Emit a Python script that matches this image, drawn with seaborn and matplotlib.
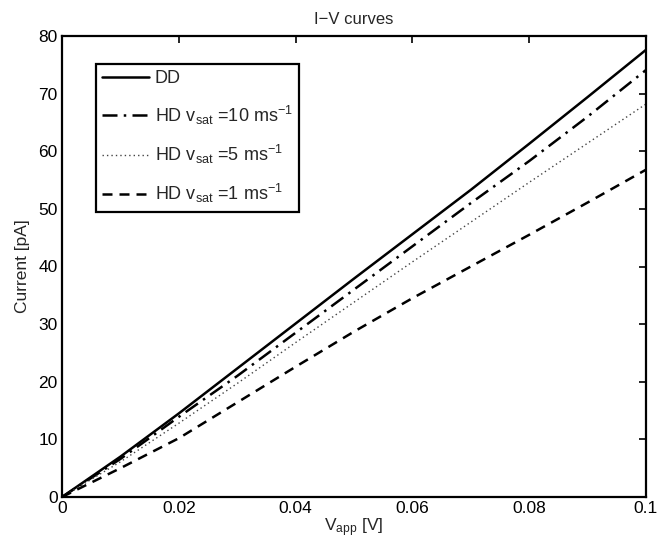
import matplotlib
matplotlib.use("Agg")
import matplotlib.pyplot as plt
import seaborn as sns
import numpy as np
import pandas as pd

v_app = [0, 0.01, 0.02, 0.03, 0.04, 0.05, 0.06, 0.07, 0.08, 0.09, 0.1]
dd = [0, 7.0, 14.5, 22.3, 30.1, 37.9, 45.6, 53.3, 61.3, 69.4, 77.6]
hd10 = [0, 6.6, 13.9, 21.0, 28.5, 36.0, 43.5, 51.0, 58.3, 66.0, 74.1]
hd5 = [0, 6.1, 12.8, 19.7, 26.8, 33.8, 40.8, 47.7, 54.6, 61.4, 68.2]
hd1 = [0, 5.0, 10.2, 16.4, 22.6, 28.7, 34.5, 40.0, 45.5, 51.1, 56.8]

labels = ["DD",
          r"HD v$_{sat}$ =10 ms$^{-1}$",
          r"HD v$_{sat}$ =5 ms$^{-1}$",
          r"HD v$_{sat}$ =1 ms$^{-1}$"]
xticks = [0, 0.02, 0.04, 0.06, 0.08, 0.1]
xticklabels = ["0", "0.02", "0.04", "0.06", "0.08", "0.1"]
yticks = [0, 10, 20, 30, 40, 50, 60, 70, 80]

sns.set_style("white")
plt.rcParams["font.family"] = ["Liberation Sans", "DejaVu Sans"]
plt.rcParams["mathtext.default"] = "regular"
plt.rcParams["font.size"] = 12.5

fig = plt.figure(figsize=(6.59, 5.48), dpi=100)
ax = fig.add_axes([62/659, 1-497/548, (646-62)/659, (497-36)/548])

series = [dd, hd10, hd5, hd1]
styles = [dict(linestyle="-", linewidth=1.8, color="black"),
          dict(linestyle=(0, (6, 2.5, 1, 2.5)), linewidth=1.8, color="black"),
          dict(linestyle=(0, (1, 2.2)), linewidth=1.0, color="#444444"),
          dict(linestyle=(0, (4, 2.8)), linewidth=1.8, color="black")]
for ys, lab, st in zip(series, labels, styles):
    df = pd.DataFrame({"V": v_app, "I": ys})
    sns.lineplot(data=df, x="V", y="I", ax=ax, label=lab, **st)

ax.set_xlim(0, 0.1)
ax.set_ylim(0, 80)
ax.set_xticks(xticks)
ax.set_xticklabels(xticklabels)
ax.set_yticks(yticks)
ax.tick_params(direction="in", length=5, width=1.2, top=True, right=True,
               labelsize=12.5, pad=3, colors="black")
for s in ax.spines.values():
    s.set_visible(True)
    s.set_linewidth(1.6)
    s.set_color("black")

ax.set_xlabel(r"V$_{app}$ [V]", fontsize=12.5, labelpad=0)
ax.set_ylabel("Current [pA]", fontsize=12.5, labelpad=6)
ax.set_title("I\u2212V curves", fontsize=12, pad=9)

leg = ax.legend(loc="upper left", bbox_to_anchor=((96-62)/584, (497-64)/461),
                borderaxespad=0, frameon=True, fancybox=False, fontsize=13,
                handlelength=2.6, labelspacing=0.9, handletextpad=0.3,
                borderpad=0.35, edgecolor="black", framealpha=1)
leg.get_frame().set_linewidth(1.6)

fig.savefig("out.png", dpi=100)
